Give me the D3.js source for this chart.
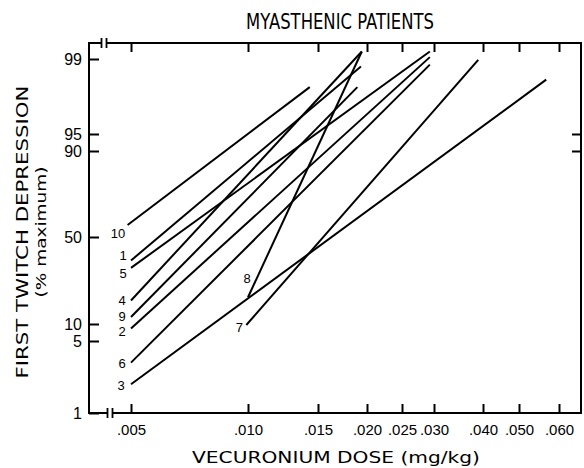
<!DOCTYPE html>
<html>
<head>
<meta charset="utf-8">
<script src="https://cdn.jsdelivr.net/npm/d3@7"></script>
<style>
  body { margin: 0; background: #fff; }
  svg { display: block; }
  text { font-family: "DejaVu Sans", sans-serif; fill: #000; }
  .tick text, .num { font-family: "Liberation Sans", Arial, sans-serif; }
</style>
</head>
<body>
<svg id="chart"></svg>
<script>
// patient numbers and each fitted line as start / end (dose mg/kg, % depression)
const patients  = ["1", "2", "3", "4", "5", "6", "7", "8", "9", "10"];
const startDose = [0.005, 0.005, 0.005, 0.005, 0.005, 0.005, 0.0099, 0.010, 0.005, 0.0049];
const startPct  = [39.2, 8.7, 2.6, 20.8, 35.8, 3.8, 9.7, 22.3, 13.2, 55.6];
const endDose   = [0.0193, 0.0293, 0.0566, 0.0194, 0.0293, 0.0293, 0.0389, 0.0194, 0.0189, 0.0143];
const endPct    = [98.6, 99.1, 97.9, 99.4, 99.4, 98.7, 98.95, 99.4, 97.5, 97.5];

const doseTicks  = [0.005, 0.010, 0.015, 0.020, 0.025, 0.030, 0.040, 0.050, 0.060];
const doseLabels = [".005", ".010", ".015", ".020", ".025", ".030", ".040", ".050", ".060"];
const pctTicks   = [1, 5, 10, 50, 90, 95, 99];
const pctRight   = [90, 95];

const width = 584, height = 468;
const frame = { left: 89, right: 581, top: 43, bottom: 413 };

const svg = d3.select("#chart")
  .attr("width", width)
  .attr("height", height);

// hand drawn log dose axis and probit-like % axis, spaced as in the original
const x = d3.scaleLog()
  .domain(doseTicks)
  .range([131, 248, 318, 367, 402, 434, 483, 519, 559]);

const y = d3.scaleLinear()
  .domain(pctTicks)
  .range([413, 341, 324, 237, 151, 134, 59]);

// frame
svg.append("rect")
  .attr("x", frame.left)
  .attr("y", frame.top)
  .attr("width", frame.right - frame.left)
  .attr("height", frame.bottom - frame.top)
  .attr("fill", "none")
  .attr("stroke", "#000")
  .attr("stroke-width", 2);

const bottomAxis = svg.append("g")
  .attr("transform", `translate(0,${frame.bottom})`)
  .call(d3.axisBottom(x)
    .tickValues(doseTicks)
    .tickFormat((d, i) => doseLabels[i])
    .tickSizeInner(-9)
    .tickSizeOuter(0)
    .tickPadding(13));

const topAxis = svg.append("g")
  .attr("transform", `translate(0,${frame.top})`)
  .call(d3.axisTop(x)
    .tickValues(doseTicks)
    .tickFormat("")
    .tickSizeInner(-9)
    .tickSizeOuter(0));

const leftAxis = svg.append("g")
  .attr("transform", `translate(${frame.left},0)`)
  .call(d3.axisLeft(y)
    .tickValues(pctTicks)
    .tickFormat(d3.format("d"))
    .tickSizeInner(-10)
    .tickSizeOuter(0)
    .tickPadding(7));

const rightAxis = svg.append("g")
  .attr("transform", `translate(${frame.right},0)`)
  .call(d3.axisRight(y)
    .tickValues(pctRight)
    .tickFormat("")
    .tickSizeInner(-9)
    .tickSizeOuter(0));

[bottomAxis, topAxis, leftAxis, rightAxis].forEach(g => {
  g.select(".domain").remove();
  g.attr("font-family", null).attr("font-size", null);
  g.selectAll(".tick line").attr("stroke", "#000").attr("stroke-width", 2);
  g.selectAll(".tick text")
    .style("font-size", "15px")
    .attr("fill", "#000");
});
leftAxis.selectAll(".tick text").attr("dy", "0.36em").style("font-size", "16px");
bottomAxis.selectAll(".tick text").attr("dy", "0.6em");

// axis break marks
function axisBreak(cx, cy) {
  svg.append("rect")
    .attr("x", cx - 2).attr("y", cy - 2)
    .attr("width", 4).attr("height", 4)
    .attr("fill", "#fff");
  [cx - 2.5, cx + 2.5].forEach(bx => {
    svg.append("line")
      .attr("x1", bx).attr("x2", bx)
      .attr("y1", cy - 5).attr("y2", cy + 5)
      .attr("stroke", "#000")
      .attr("stroke-width", 1.8);
  });
}
axisBreak(104, frame.top);
axisBreak(110, frame.bottom);

// patient lines
const lines = patients.map((p, i) => ({
  id: p,
  pts: [[startDose[i], startPct[i]], [endDose[i], endPct[i]]]
}));

const line = d3.line()
  .x(d => x(d[0]))
  .y(d => y(d[1]));

svg.append("g")
  .selectAll("path")
  .data(lines)
  .join("path")
  .attr("d", d => line(d.pts))
  .attr("fill", "none")
  .attr("stroke", "#000")
  .attr("stroke-width", 2);

// number beside the start of each line
const labelShift = {
  "1": [-8, -5], "2": [-9, 3], "3": [-10, 1], "4": [-9, -1], "5": [-8, 5],
  "6": [-9, 0], "7": [-7, 2], "8": [-1, -19], "9": [-9, -1], "10": [-9.5, 8]
};

svg.append("g")
  .selectAll("text")
  .data(lines)
  .join("text")
  .attr("class", "num")
  .attr("x", d => x(d.pts[0][0]) + labelShift[d.id][0])
  .attr("y", d => y(d.pts[0][1]) + labelShift[d.id][1] + 5)
  .attr("text-anchor", "middle")
  .style("font-size", "13px")
  .text(d => d.id);

// titles
svg.append("text")
  .attr("x", 340)
  .attr("y", 29)
  .attr("text-anchor", "middle")
  .attr("textLength", 188)
  .attr("lengthAdjust", "spacingAndGlyphs")
  .style("font-size", "21px")
  .text("MYASTHENIC PATIENTS");

svg.append("text")
  .attr("x", 336)
  .attr("y", 463)
  .attr("text-anchor", "middle")
  .attr("textLength", 288)
  .attr("lengthAdjust", "spacingAndGlyphs")
  .style("font-size", "16px")
  .text("VECURONIUM DOSE (mg/kg)");

svg.append("text")
  .attr("transform", "translate(28,232) rotate(-90)")
  .attr("text-anchor", "middle")
  .attr("textLength", 293)
  .attr("lengthAdjust", "spacingAndGlyphs")
  .style("font-size", "15px")
  .text("FIRST TWITCH DEPRESSION");

svg.append("text")
  .attr("transform", "translate(46,232) rotate(-90)")
  .attr("text-anchor", "middle")
  .attr("textLength", 131)
  .attr("lengthAdjust", "spacingAndGlyphs")
  .style("font-size", "14px")
  .text("(% maximum)");
</script>
</body>
</html>
